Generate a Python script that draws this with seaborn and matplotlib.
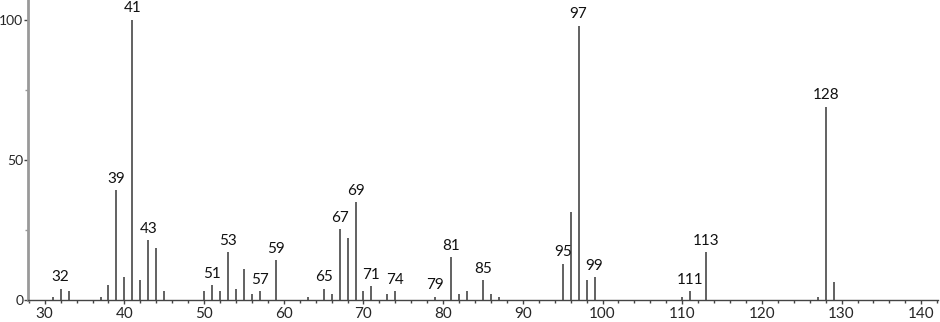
import matplotlib
matplotlib.use("Agg")
import matplotlib.pyplot as plt
import seaborn as sns
import numpy as np
from matplotlib.ticker import MultipleLocator

# m/z values and relative intensities
mz = [31, 32, 33, 37, 38, 39, 40, 41, 42, 43, 44, 45,
      50, 51, 52, 53, 54, 55, 56, 57, 59,
      63, 65, 66, 67, 68, 69, 70, 71, 73, 74, 79,
      81, 82, 83, 85, 86, 87, 95, 96, 97, 98, 99,
      110, 111, 113, 127, 128, 129]
intensity = [1.2, 4.1, 3.3, 1.2, 5.2, 39.1, 8.3, 100.0, 7.1, 21.4, 18.4, 3.3,
             3.3, 5.2, 3.3, 17.0, 4.1, 11.0, 2.1, 3.3, 14.1,
             1.2, 4.1, 2.1, 25.2, 22.2, 35.0, 3.2, 5.1, 2.1, 3.2, 1.2,
             15.2, 2.1, 3.2, 7.0, 2.1, 1.2, 13.0, 31.3, 97.9, 7.1, 8.2,
             1.2, 3.2, 17.0, 1.2, 69.0, 6.3]
labeled = [32, 39, 41, 43, 51, 53, 57, 59, 65, 67, 69, 71, 74, 79,
           81, 85, 95, 97, 99, 111, 113, 128]

xticks = [30, 40, 50, 60, 70, 80, 90, 100, 110, 120, 130, 140]
yticks = [0, 50, 100]

sns.set_style("ticks")
plt.rcParams['font.family'] = ['Lato', 'DejaVu Sans']

fig = plt.figure(figsize=(9.4, 3.22), dpi=100)
ax = fig.add_axes([28/940, 1 - 300/322, 910/940, 300/322])

ax.vlines(mz, 0, intensity, color="#555555", linewidth=1.3)

lookup = dict(zip(mz, intensity))
for m in labeled:
    ax.annotate(str(m), (m, lookup[m]), xytext=(0, 3), textcoords="offset points",
                ha="center", va="bottom", fontsize=11, color="#111111")

ax.set_xlim(27.9, 142.1)
ax.set_ylim(0, 107)
ax.set_xticks(xticks)
ax.set_yticks(yticks)
ax.xaxis.set_minor_locator(MultipleLocator(2))
ax.yaxis.set_minor_locator(MultipleLocator(25))
ax.tick_params(axis="x", which="major", length=3, width=1, color="#444444",
               labelsize=11, pad=2)
ax.tick_params(axis="x", which="minor", length=2.2, width=1, color="#444444")
ax.tick_params(axis="y", which="major", length=3, width=1, color="#444444",
               labelsize=10, pad=0.5)
ax.tick_params(axis="y", which="minor", length=2, width=1, color="#999999")

sns.despine(ax=ax, top=True, right=True)
ax.spines["left"].set_color("#999999")
ax.spines["left"].set_linewidth(2)
ax.spines["bottom"].set_color("#444444")
ax.spines["bottom"].set_linewidth(1)

fig.savefig("out.png", dpi=100)
